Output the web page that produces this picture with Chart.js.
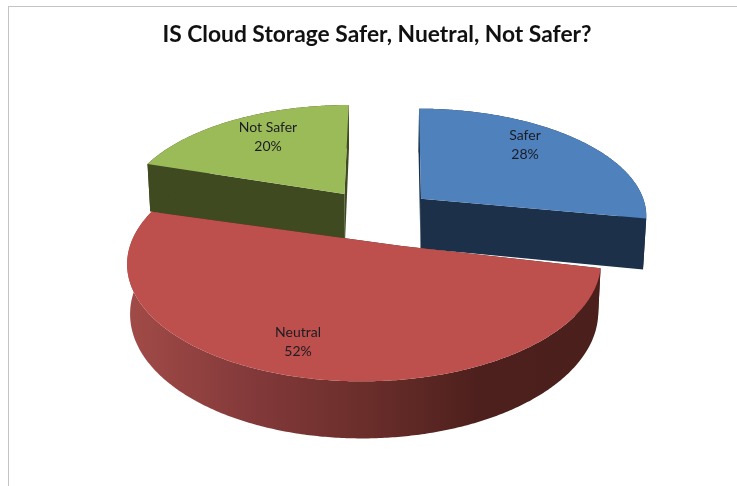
<!DOCTYPE html>
<html>
<head>
<meta charset="utf-8">
<title>Cloud storage</title>
<script src="https://cdn.jsdelivr.net/npm/chart.js@4"></script>
<style>
  html, body { margin: 0; padding: 0; background: #fff; overflow: hidden; }
  #frame {
    position: absolute; left: 8px; top: 6px; width: 736px; height: 480px;
    border-left: 1px solid #c4c4c4; border-top: 1px solid #c4c4c4; overflow: hidden;
  }
  canvas { display: block; filter: blur(0.4px); }
</style>
</head>
<body>
<div id="frame"><canvas id="pie" width="736" height="480"></canvas></div>
<script>
// Dados do gráfico
var chartTitle = "IS Cloud Storage Safer, Nuetral, Not Safer?"
var categories = ["Safer", "Neutral", "Not Safer"]
var shares = [28, 52, 20]

// Cores
var topColors = ["#4f81bd", "#bd4f4c", "#9bbb59"]
var sideColors = ["#1d3049", "#4a1f1c", "#3f4a20"]

// Fatia em perspectiva: projeta o plano do disco (raio 1) para a tela
var view = { x0: 370, y0: 209.8, a: 224, b: 107.4, p: 0.14, lean: 1.012, explode: 0.27 }

// Ajustes finos de cada fatia (a perspectiva do original não é exata)
var sliceDepth = [51, 47, 51]
var apexNudge = [-0.016, 0.165, 0]
var rimStretch = [1, 1.008, 1]
var rimShift = [0, 0.004, 0]

function project(u, v, depth) {
  var w = 1 - view.p * v
  var k = depth ? view.lean : 1
  return {
    x: view.x0 + view.a * u / (w * k),
    y: view.y0 + view.b * v / w + depth / w
  }
}

function slicePoints(arc, i, depth) {
  // angulos do ArcElement: 0 = direita, então somamos 90 graus
  var start = arc.startAngle + Math.PI / 2
  var end = arc.endAngle + Math.PI / 2
  var mid = (start + end) / 2
  var cu = Math.sin(mid) * view.explode
  var cv = -Math.cos(mid) * view.explode
  var rim = []
  var steps = Math.ceil((end - start) / 0.01)
  for (var s = 0; s <= steps; s++) {
    var t = start + (end - start) * s / steps
    rim.push(project(cu + rimShift[i] + Math.sin(t) * rimStretch[i], cv - Math.cos(t), depth))
  }
  return { apex: project(cu + apexNudge[i], cv, depth), rim: rim }
}

function fillPoly(ctx, points, color) {
  ctx.beginPath()
  points.forEach((p, i) => {
    if (i == 0) ctx.moveTo(p.x, p.y)
    else ctx.lineTo(p.x, p.y)
  })
  ctx.closePath()
  ctx.fillStyle = color
  ctx.fill()
}

var pie3d = {
  id: "pie3d",
  beforeDatasetDraw(chart, args) {
    var ctx = chart.ctx
    var arcs = args.meta.data
    var order = arcs.map((arc, i) => i)
    // as fatias do fundo são desenhadas primeiro
    var depthOf = (i) => Math.cos((arcs[i].startAngle + arcs[i].endAngle) / 2 + Math.PI / 2)
    order.sort((i, j) => depthOf(j) - depthOf(i))

    ctx.save()
    order.forEach((i) => {
      var arc = arcs[i]
      var top = slicePoints(arc, i, 0)
      var low = slicePoints(arc, i, sliceDepth[i])
      var side = sideColors[i]
      var n = top.rim.length - 1

      fillPoly(ctx, [top.apex, top.rim[0], low.rim[0], low.apex], side)
      fillPoly(ctx, [top.apex, top.rim[n], low.rim[n], low.apex], side)

      // a lateral curva do vermelho tem degradê
      var rimFill = side
      if (i == 1) {
        rimFill = ctx.createLinearGradient(125, 0, 600, 0)
        rimFill.addColorStop(0, "#a04a47")
        rimFill.addColorStop(0.25, "#83393a")
        rimFill.addColorStop(0.5, "#692d2a")
        rimFill.addColorStop(0.72, "#4e201d")
        rimFill.addColorStop(1, side)
      }
      fillPoly(ctx, top.rim.concat(low.rim.slice().reverse()), rimFill)
      fillPoly(ctx, [top.apex].concat(top.rim), arc.options.backgroundColor)
    })

    // rótulos
    var spots = chart.options.plugins.pie3d.labelSpots
    ctx.fillStyle = "#1c1c24"
    ctx.font = "14px Lato"
    ctx.textAlign = "center"
    ctx.textBaseline = "middle"
    arcs.forEach((arc, i) => {
      ctx.fillText(categories[i], spots[i].x, spots[i].y)
      ctx.fillText(shares[i] + "%", spots[i].x, spots[i].y + 19.5)
    })
    ctx.restore()
    return false
  }
}

window.onload = function () {
  new Chart(document.getElementById("pie"), {
    type: "pie",
    data: {
      labels: categories,
      datasets: [{
        data: shares,
        backgroundColor: topColors,
        borderWidth: 0
      }]
    },
    options: {
      responsive: false,
      animation: false,
      plugins: {
        legend: { display: false },
        tooltip: { enabled: false },
        title: {
          display: true,
          text: chartTitle,
          color: "#111",
          font: { family: "Lato", size: 22.8, weight: "bold" },
          padding: { top: 14, bottom: 10 }
        },
        pie3d: {
          labelSpots: [{ x: 516, y: 128 }, { x: 289, y: 325 }, { x: 259, y: 120 }]
        }
      }
    },
    plugins: [pie3d]
  })
}
</script>
</body>
</html>
